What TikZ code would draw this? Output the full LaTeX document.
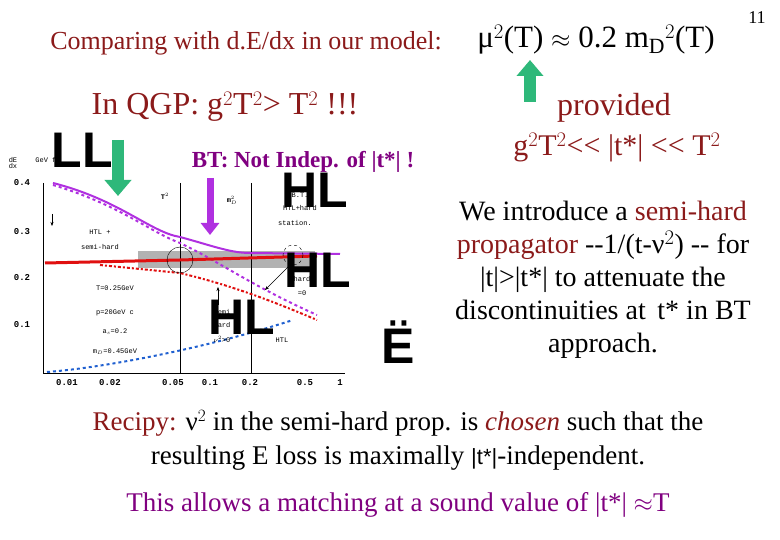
\documentclass[tikz,border=0pt]{standalone}
\usepackage{fontspec}
\setmainfont{Liberation Serif}
\newfontfamily\monof{Liberation Mono}
\newfontfamily\sansb{Liberation Sans}
\usetikzlibrary{arrows.meta}
\definecolor{maroon}{HTML}{8B1A1A}
\definecolor{purp}{HTML}{800080}
\definecolor{vio}{HTML}{B030E0}
\definecolor{redc}{HTML}{E01010}
\definecolor{bluec}{HTML}{2060D0}
\definecolor{grn}{HTML}{2EB87A}
\begin{document}
\begin{tikzpicture}[x=1pt,y=-1pt,
  big/.style={font=\fontsize{32}{36}\selectfont},
  body/.style={font=\fontsize{28}{33}\selectfont},
  tiny/.style={font=\monof\fontsize{7}{8}\selectfont},
  tick/.style={font=\monof\bfseries\fontsize{9}{10}\selectfont},
  blob/.style={font=\sansb\bfseries\fontsize{50}{50}\selectfont},
  fatarrow/.style={line width=12pt,-{Triangle[length=16pt,width=26pt]}}]
\useasboundingbox (0,0) rectangle (780,540);
% titles
\node[maroon,font=\fontsize{26}{30}\selectfont] (cmp) at (246,43) {Comparing with d.E/dx in our model:};
\node[font=\fontsize{31}{34}\selectfont] (mu) at (596,40) {μ$^2$(T) $\approx$ 0.2 m$_\mathrm{D}$$^2$(T)};
\node[font=\fontsize{18}{20}\selectfont] (pg) at (757,18) {11};
\node[big,maroon] (qgp) at (225,107) {In QGP: g$^2$T$^2$> T$^2$ !!!};
\node[big,maroon] (prov) at (614,108) {provided};
\node[big,maroon,font=\fontsize{30}{34}\selectfont] (cond) at (617,148) {g$^2$T$^2$<{}< |t*| <{}< T$^2$};
\coordinate (ga1) at (530,102);
\coordinate (ga2) at (530,60);
\draw[fatarrow,draw=grn] (ga1) -- (ga2);
% plot
\fill[gray!60] (138,251) rectangle (315,268);
\draw[thick] (43,183) -- (43,373) -- (345,373);
\draw (180,183) -- (180,373) (251,183) -- (251,373);
\foreach \x/\l in {67/0.01,110/0.02,173/0.05,210/0.1,250/0.2,305/0.5,340/1}
  \node[tick] at (\x,383) {\l};
\foreach \y/\l in {183/0.4,232/0.3,278/0.2,325/0.1}
  \node[tick] at (22,\y) {\l};
\draw[vio,line width=2pt] (53,183) .. controls (120,200) and (150,232) .. (180,237) .. controls (210,245) and (230,253) .. (250,253) -- (340,254);
\draw[vio,line width=2pt,dashed] (53,185) .. controls (120,205) and (150,232) .. (180,243) .. controls (220,262) and (250,285) .. (317,315);
\draw[bluec,line width=2pt,dashed] (47,372) .. controls (100,368) and (200,350) .. (293,320);
\draw[redc,line width=3pt] (45,263) -- (180,260) -- (317,256);
\draw[redc,line width=2pt,dash dot] (100,265) .. controls (150,270) and (170,272) .. (180,273) .. controls (230,285) and (270,300) .. (317,320);
\draw (180,260) circle (13);
\draw[dashed] (293,255) circle (10);
\node[tiny] at (165,196) {\bfseries T$^2$};
\node[tiny] at (232,200) {\bfseries m$_D^2$};
\node[tiny] at (100,232) {HTL +};
\node[tiny] at (100,247) {semi-hard};
\draw[-{Stealth[length=4pt]}] (52,214) -- (52,226);
\node[tiny] at (115,288) {T=0.25GeV};
\node[tiny] at (115,313) {p=20GeV c};
\node[tiny] at (115,332) {a$_s$=0.2};
\node[tiny] at (115,352) {m$_D$=0.45GeV};
\node[tiny] at (300,195) {B.T.};
\node[tiny] at (300,208) {HTL+hard};
\node[tiny] at (295,223) {station.};
\node[tiny] at (302,279) {hard};
\node[tiny] at (302,293) {=0};
\node[tiny] at (222,312) {semi};
\node[tiny] at (222,325) {hard};
\node[tiny] at (222,339) {$\nu^2$>0};
\node[tiny] at (282,340) {HTL};
\draw[-{Stealth[length=4pt]}] (218,305) -- (218,287);
\draw[-{Stealth[length=4pt]}] (290,265) -- (265,290);
\node[tiny,align=center] at (13,163) {dE\\[-2pt]dx};
\node[tiny] at (48,160) {GeV fm};
\node[blob] at (315,190) {HL};
\node[blob] at (318,270) {HL};
\node[blob] at (242,317) {HL};
\node[blob] at (82,150) {LL};
\node[blob] at (398,342) {Ë};
\node[font=\bfseries\fontsize{23}{26}\selectfont,purp] (bt) at (303,162) {BT: Not Indep. of |t*| !};
\coordinate (gb1) at (118,140);
\coordinate (gb2) at (118,196);
\draw[fatarrow,draw=grn] (gb1) -- (gb2);
\coordinate (pa1) at (210,178);
\coordinate (pa2) at (210,235);
\draw[line width=7pt,draw=vio,-{Triangle[length=12pt,width=18pt]}] (pa1) -- (pa2);
% right text
\node[body,align=center] (intro) at (603,280) {We introduce a \textcolor{maroon}{semi-hard}\\
\textcolor{maroon}{propagator} -{}-1/(t-ν$^2$) -{}- for\\ |t|>|t*| to attenuate the\\ discontinuities at\, t* in BT\\ approach.};
\node[body,align=center,font=\fontsize{27}{34}\selectfont] (rec) at (398,440) {\textcolor{maroon}{Recipy:} ν$^2$ in the semi-hard prop. is \textcolor{maroon}{\itshape chosen} such that the\\ resulting E loss is maximally {\sansb\fontsize{22}{26}\selectfont |t*|}-independent.};
\node[body,purp,font=\fontsize{27}{30}\selectfont] (match) at (398,505) {This allows a matching at a sound value of |t*| $\approx$T};
\end{tikzpicture}
\end{document}
